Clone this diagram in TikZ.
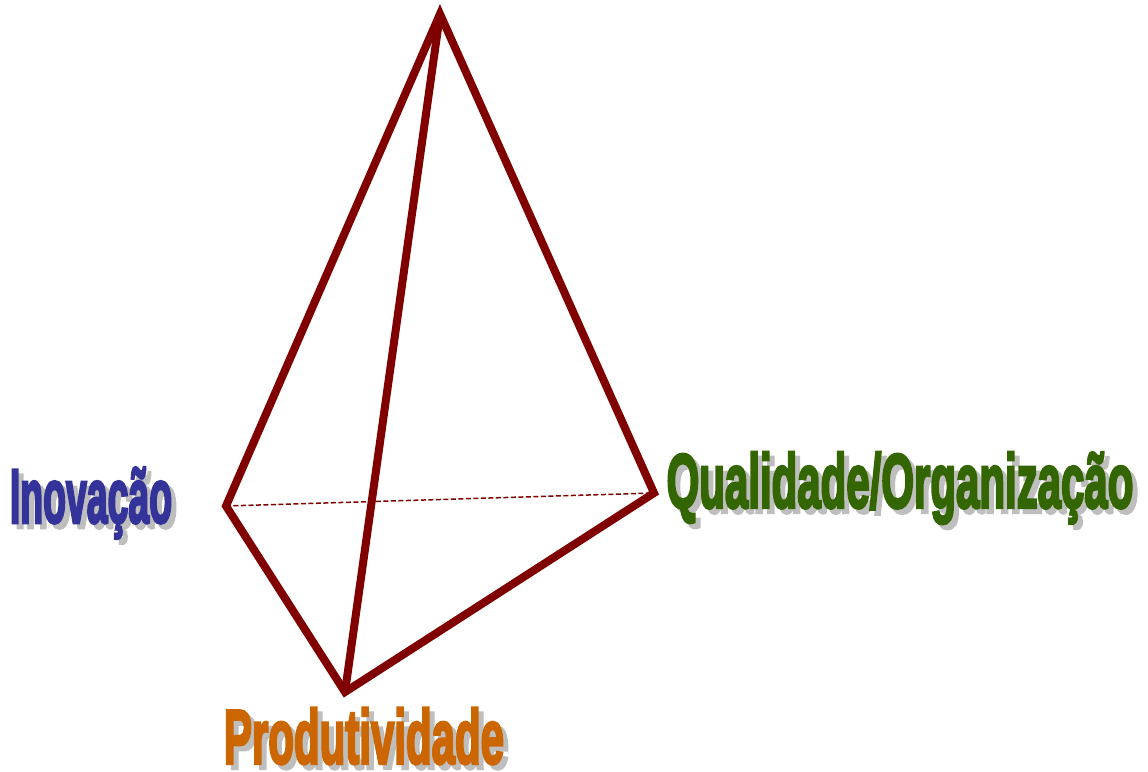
\documentclass[tikz,border=0pt]{standalone}
\usepackage{fontspec}
\newfontfamily\heavyfont[FakeBold=4]{Liberation Sans Bold}
\definecolor{edge}{HTML}{800000}
\definecolor{shade}{HTML}{BEBEBE}
\definecolor{ino}{HTML}{333399}
\definecolor{qual}{HTML}{336600}
\definecolor{prod}{HTML}{CC6600}
\tikzset{
 edgeline/.style={draw=edge,line width=8pt,line cap=butt,line join=miter,miter limit=3},
 hidden/.style={draw=edge,line width=1.5pt,dash pattern=on 5pt off 2.5pt},
 lab/.style={inner sep=0,anchor=center,font=\heavyfont\fontsize{48}{48}\selectfont,yscale=1.6},
 shadowlab/.style={lab,text=shade}
}
\begin{document}
\begin{tikzpicture}[x=1pt,y=-1pt]
\useasboundingbox (0,0) rectangle (1148,771);
\coordinate (top) at (440,14);
\coordinate (left) at (226,506);
\coordinate (right) at (654,493);
\coordinate (bot) at (345,692);
\draw[hidden] (left) -- (right);
\draw[edgeline] (left) -- (top) -- (right) -- (bot) -- cycle;
\draw[edgeline] (top) -- (bot);
\node[shadowlab,xscale=0.78] (inos) at (96,508) {Inovação};
\node[lab,text=ino,xscale=0.78] (ino) at (91,503) {Inovação};
\node[shadowlab,xscale=0.875] (quals) at (905,493) {Qualidade/Organização};
\node[lab,text=qual,xscale=0.875] (qual) at (900,488) {Qualidade/Organização};
\node[shadowlab,xscale=0.875] (prods) at (369,741) {Produtividade};
\node[lab,text=prod,xscale=0.875] (prod) at (364,736) {Produtividade};
\end{tikzpicture}
\end{document}
